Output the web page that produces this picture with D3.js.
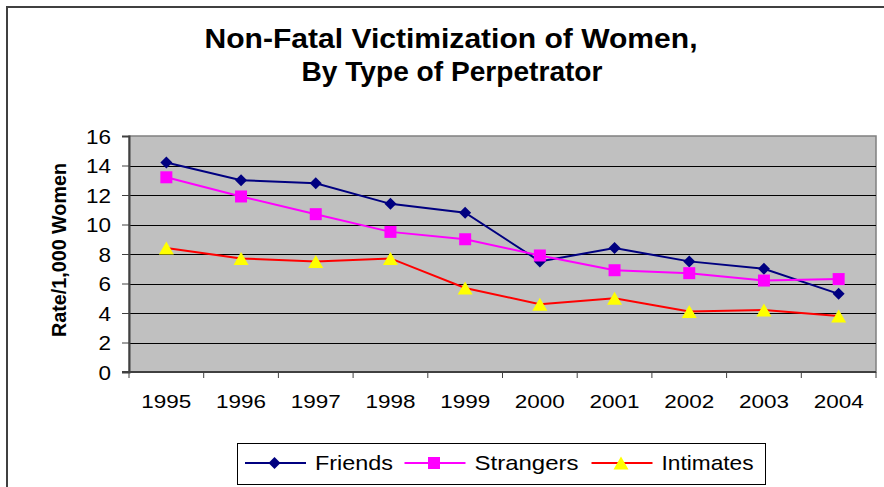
<!DOCTYPE html>
<html>
<head>
<meta charset="utf-8">
<script src="https://cdn.jsdelivr.net/npm/d3@7"></script>
<style>
  body { margin: 0; background: #fff; }
  text { font-family: "Liberation Sans", Arial, sans-serif; }
</style>
</head>
<body>
<svg id="chart" width="884" height="487"></svg>
<script>
// Data
var years = ["1995", "1996", "1997", "1998", "1999", "2000", "2001", "2002", "2003", "2004"];
var friends = [14.2, 13.0, 12.8, 11.4, 10.8, 7.5, 8.4, 7.5, 7.0, 5.3];
var strangers = [13.2, 11.9, 10.7, 9.5, 9.0, 7.9, 6.9, 6.7, 6.2, 6.3];
var intimates = [8.4, 7.7, 7.5, 7.7, 5.7, 4.6, 5.0, 4.1, 4.2, 3.8];
var yTicks = [0, 2, 4, 6, 8, 10, 12, 14, 16];

// marker shapes, r = half size
function diamond(r) { return "M0," + (-r) + "L" + r + ",0L0," + r + "L" + (-r) + ",0Z"; }
function square(r) { return "M" + (-r) + "," + (-r) + "h" + (2 * r) + "v" + (2 * r) + "h" + (-2 * r) + "Z"; }
function triangle(r) { return "M0," + (-r) + "L" + (r + 1) + "," + r + "L" + (-r - 1) + "," + r + "Z"; }

var seriesList = [
  { name: "Friends", values: friends, line: "#000080", fill: "#000080", shape: diamond, r: 6, textW: 78 },
  { name: "Strangers", values: strangers, line: "#FF00FF", fill: "#FF00FF", shape: square, r: 6, textW: 104 },
  { name: "Intimates", values: intimates, line: "#FF0000", fill: "#FFFF00", shape: triangle, r: 6.5, textW: 92 }
];

var svg = d3.select("#chart");

// outer chart border (cut off at right and bottom)
svg.append("rect")
  .attr("x", 7).attr("y", 7)
  .attr("width", 884).attr("height", 500)
  .attr("fill", "none")
  .attr("stroke", "#404040")
  .attr("stroke-width", 2);

// Title
svg.append("text")
  .attr("x", 451).attr("y", 48)
  .attr("text-anchor", "middle")
  .attr("textLength", 493).attr("lengthAdjust", "spacingAndGlyphs")
  .style("font-weight", "bold").style("font-size", "28px")
  .text("Non-Fatal Victimization of Women,");
svg.append("text")
  .attr("x", 452).attr("y", 81)
  .attr("text-anchor", "middle")
  .attr("textLength", 301).attr("lengthAdjust", "spacingAndGlyphs")
  .style("font-weight", "bold").style("font-size", "28px")
  .text("By Type of Perpetrator");

var plot = { left: 129, right: 876, top: 136, bottom: 372 };

var x = d3.scaleBand().domain(years).range([plot.left, plot.right]);
var y = d3.scaleLinear().domain([0, 16]).range([plot.bottom, plot.top]);

// plot background
svg.append("rect")
  .attr("x", plot.left).attr("y", plot.top)
  .attr("width", plot.right - plot.left).attr("height", plot.bottom - plot.top)
  .attr("fill", "#C0C0C0")
  .attr("stroke", "#808080")
  .attr("stroke-width", 1.5);

// gridlines
svg.append("g")
  .selectAll("line")
  .data(yTicks.slice(1, -1))
  .enter()
  .append("line")
    .attr("x1", plot.left).attr("x2", plot.right)
    .attr("y1", function(d) { return Math.round(y(d)) + 0.5; })
    .attr("y2", function(d) { return Math.round(y(d)) + 0.5; })
    .attr("stroke", "#000")
    .attr("stroke-width", 1);

// y axis
var yAxis = svg.append("g")
  .attr("transform", "translate(" + plot.left + ",0)")
  .call(d3.axisLeft(y).tickValues(yTicks).tickSize(7).tickPadding(11));
yAxis.select(".domain").attr("stroke", "#404040").attr("stroke-width", 2);
yAxis.selectAll(".tick line").attr("stroke", "#404040");
yAxis.selectAll("text")
  .style("font-size", "20px")
  .attr("fill", "#000")
  .attr("font-family", null)
  .attr("dy", "0.36em")
  .attr("textLength", function(d) { return String(d).length * 12.5; })
  .attr("lengthAdjust", "spacingAndGlyphs");

// x axis, ticks sit between the categories
var xAxis = svg.append("g")
  .attr("transform", "translate(0," + plot.bottom + ")");
xAxis.append("line")
  .attr("x1", plot.left - 7).attr("x2", plot.right)
  .attr("y1", 0).attr("y2", 0)
  .attr("stroke", "#404040").attr("stroke-width", 2);
xAxis.selectAll(".xtick")
  .data(years.concat(["end"]))
  .enter()
  .append("line")
    .attr("x1", function(d, i) { return plot.left + i * x.step(); })
    .attr("x2", function(d, i) { return plot.left + i * x.step(); })
    .attr("y1", 0).attr("y2", 6)
    .attr("stroke", "#404040");
xAxis.selectAll(".xlabel")
  .data(years)
  .enter()
  .append("text")
    .attr("x", function(d) { return x(d) + x.bandwidth() / 2; })
    .attr("y", 36)
    .attr("text-anchor", "middle")
    .attr("textLength", 50).attr("lengthAdjust", "spacingAndGlyphs")
    .style("font-size", "19px")
    .text(function(d) { return d; });

// y axis title
svg.append("text")
  .attr("transform", "translate(66,250) rotate(-90)")
  .attr("text-anchor", "middle")
  .attr("textLength", 174).attr("lengthAdjust", "spacingAndGlyphs")
  .style("font-weight", "bold")
  .style("font-size", "20px")
  .text("Rate/1,000 Women");

// lines and markers
var line = d3.line()
  .x(function(d, i) { return x(years[i]) + x.bandwidth() / 2; })
  .y(function(d) { return y(d); });

seriesList.forEach(function(s) {
  svg.append("path")
    .datum(s.values)
    .attr("d", line)
    .attr("fill", "none")
    .attr("stroke", s.line)
    .attr("stroke-width", 2);
  svg.append("g")
    .selectAll("path")
    .data(s.values)
    .enter()
    .append("path")
      .attr("d", s.shape(s.r))
      .attr("transform", function(d, i) {
        return "translate(" + (x(years[i]) + x.bandwidth() / 2) + "," + y(d) + ")";
      })
      .attr("fill", s.fill);
});

// legend
var legend = svg.append("g");
legend.append("rect")
  .attr("x", 237.5).attr("y", 443.5)
  .attr("width", 528).attr("height", 41)
  .attr("fill", "#fff")
  .attr("stroke", "#000")
  .attr("stroke-width", 1);

var legendX = [245, 404.5, 591.5];
seriesList.forEach(function(s, i) {
  var g = legend.append("g").attr("transform", "translate(" + legendX[i] + ",463)");
  g.append("line")
    .attr("x1", 0).attr("x2", 61)
    .attr("stroke", s.line).attr("stroke-width", 2);
  g.append("path")
    .attr("d", s.shape(s.r))
    .attr("transform", "translate(29.5,0)")
    .attr("fill", s.fill);
  g.append("text")
    .attr("x", 70).attr("y", 7)
    .attr("textLength", s.textW).attr("lengthAdjust", "spacingAndGlyphs")
    .style("font-size", "21px")
    .text(s.name);
});
</script>
</body>
</html>
